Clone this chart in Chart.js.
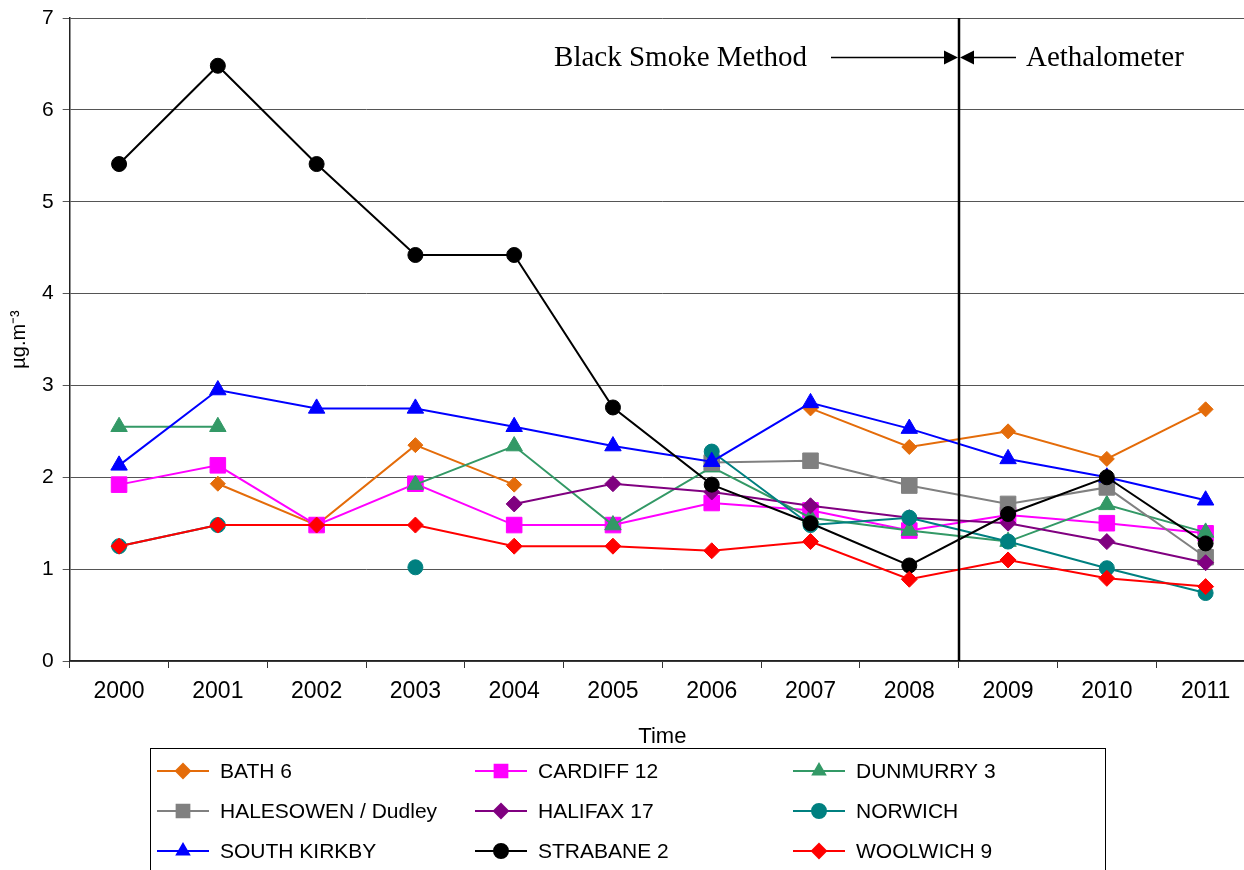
<!DOCTYPE html>
<html>
<head>
<meta charset="utf-8">
<script src="https://cdn.jsdelivr.net/npm/chart.js@4/dist/chart.umd.min.js"></script>
<style>
html, body { margin: 0; padding: 0; background: #fff; overflow: hidden; }
canvas { display: block; }
</style>
</head>
<body>
<canvas id="smokeChart" width="1267" height="870"></canvas>
<script>
const YEARS = ['2000','2001','2002','2003','2004','2005','2006','2007','2008','2009','2010','2011'];
const Y_TICKS = [0,1,2,3,4,5,6,7];

const BATH      = [null,1.93,1.48,2.35,1.92,null,null,2.75,2.33,2.50,2.20,2.74];
const CARDIFF   = [1.92,2.13,1.48,1.93,1.48,1.48,1.72,1.64,1.42,1.59,1.50,1.39];
const DUNMURRY  = [2.55,2.55,null,1.92,2.34,1.48,2.11,1.56,1.42,1.30,1.70,1.40];
const HALESOWEN = [null,null,null,null,null,null,2.16,2.18,1.91,1.71,1.89,1.13];
const HALIFAX   = [null,null,null,null,1.71,1.93,1.84,1.69,1.56,1.50,1.30,1.07];
const NORWICH   = [1.25,1.48,null,1.02,null,null,2.28,1.48,1.56,1.30,1.01,0.74];
const KIRKBY    = [2.13,2.95,2.75,2.75,2.55,2.34,2.17,2.81,2.53,2.20,2.00,1.75];
const STRABANE  = [5.41,6.48,5.41,4.42,4.42,2.76,1.92,1.50,1.04,1.60,2.00,1.28];
const WOOLWICH  = [1.25,1.48,1.48,1.48,1.25,1.25,1.20,1.30,0.89,1.10,0.90,0.81];

let n = 0;
const mk = (label, data, color, style, r) => ({
    label: label,
    data: data,
    borderColor: color,
    backgroundColor: color,
    borderWidth: 2,
    pointStyle: style,
    pointRadius: r,
    pointHoverRadius: r,
    pointBorderWidth: 1,
    spanGaps: false,
    tension: 0,
    order: 20 - (n++)   // later series drawn on top, like the original
});

const datasets = [
    mk('BATH 6', BATH, '#E46C0A', 'rectRot', 7.5),
    mk('CARDIFF 12', CARDIFF, '#FF00FF', 'rect', 11),
    mk('DUNMURRY 3', DUNMURRY, '#339966', 'triangle', 9.5),
    mk('HALESOWEN / Dudley', HALESOWEN, '#808080', 'rect', 11),
    mk('HALIFAX 17', HALIFAX, '#800080', 'rectRot', 8),
    mk('NORWICH', NORWICH, '#008080', 'circle', 7.5),
    mk('SOUTH KIRKBY', KIRKBY, '#0000FF', 'triangle', 9.5),
    mk('STRABANE 2', STRABANE, '#000000', 'circle', 7.5),
    mk('WOOLWICH 9', WOOLWICH, '#FF0000', 'rectRot', 8)
];

const changeover = {
    id: 'changeover',
    afterDatasetsDraw(chart) {
        const ctx = chart.ctx;
        const x = Math.round(chart.scales.x.getPixelForValue(8.5));
        const top = chart.chartArea.top;
        const bottom = chart.chartArea.bottom;
        const y = Math.round(chart.scales.y.getPixelForValue(6.57)) + 0.5;
        ctx.save();
        ctx.strokeStyle = '#000';
        ctx.fillStyle = '#000';
        ctx.lineWidth = 2.5;
        ctx.beginPath();
        ctx.moveTo(x, top);
        ctx.lineTo(x, bottom);
        ctx.stroke();
        ctx.lineWidth = 1.5;
        ctx.beginPath();
        ctx.moveTo(x - 128, y);
        ctx.lineTo(x - 12, y);
        ctx.moveTo(x + 12, y);
        ctx.lineTo(x + 57, y);
        ctx.stroke();
        ctx.beginPath();
        ctx.moveTo(x - 1, y);
        ctx.lineTo(x - 15, y - 7);
        ctx.lineTo(x - 15, y + 7);
        ctx.closePath();
        ctx.moveTo(x + 1, y);
        ctx.lineTo(x + 15, y - 7);
        ctx.lineTo(x + 15, y + 7);
        ctx.closePath();
        ctx.fill();
        ctx.font = '29px "Liberation Serif", "Times New Roman", serif';
        ctx.textBaseline = 'middle';
        ctx.textAlign = 'right';
        ctx.fillText('Black Smoke Method', x - 152, y + 1);
        ctx.textAlign = 'left';
        ctx.fillText('Aethalometer', x + 67, y + 1);
        ctx.restore();
    }
};

const boxLegend = {
    id: 'boxLegend',
    afterDraw(chart) {
        const ctx = chart.ctx;
        ctx.save();
        ctx.strokeStyle = '#000';
        ctx.lineWidth = 1;
        ctx.strokeRect(150.5, 748.5, 955, 140);
        ctx.font = '21px "Liberation Sans", Arial, sans-serif';
        ctx.textBaseline = 'middle';
        ctx.textAlign = 'left';
        chart.data.datasets.forEach((ds, i) => {
            const col = i % 3;
            const row = Math.floor(i / 3);
            const x0 = 157 + col * 318;
            const y0 = 771 + row * 40;
            ctx.strokeStyle = ds.borderColor;
            ctx.lineWidth = 2;
            ctx.beginPath();
            ctx.moveTo(x0, y0);
            ctx.lineTo(x0 + 52, y0);
            ctx.stroke();
            ctx.fillStyle = ds.backgroundColor;
            Chart.helpers.drawPoint(ctx, {
                pointStyle: ds.pointStyle,
                radius: ds.pointStyle === 'rect' ? 9 : 7,
                borderWidth: 1,
                rotation: 0
            }, x0 + 26, y0);
            ctx.fillStyle = '#000';
            ctx.fillText(ds.label, x0 + 63, y0 + 1);
        });
        ctx.restore();
    }
};

new Chart(document.getElementById('smokeChart'), {
    type: 'line',
    data: { labels: YEARS, datasets: datasets },
    options: {
        responsive: false,
        animation: false,
        layout: { padding: { top: 18, right: 3, bottom: 120, left: 7 } },
        plugins: {
            legend: { display: false },
            tooltip: { enabled: false }
        },
        scales: {
            x: {
                offset: true,
                grid: {
                    offset: true,
                    drawOnChartArea: false,
                    color: '#333',
                    tickLength: 7
                },
                border: { color: '#222', width: 1.5 },
                ticks: {
                    color: '#000',
                    font: { family: '"Liberation Sans", Arial, sans-serif', size: 23 },
                    padding: 10,
                    maxRotation: 0
                },
                title: {
                    display: true,
                    text: 'Time',
                    color: '#000',
                    font: { family: '"Liberation Sans", Arial, sans-serif', size: 22 },
                    padding: { top: 8, bottom: 0 }
                }
            },
            y: {
                min: 0,
                max: 7,
                afterBuildTicks: (axis) => { axis.ticks = Y_TICKS.map(v => ({ value: v })); },
                afterFit: (axis) => { axis.paddingTop = 0; axis.paddingBottom = 0; },
                grid: {
                    color: '#555',
                    lineWidth: 1,
                    tickLength: 7
                },
                border: { color: '#222', width: 1.5 },
                ticks: {
                    color: '#000',
                    font: { family: '"Liberation Sans", Arial, sans-serif', size: 21 },
                    padding: 9
                },
                title: {
                    display: true,
                    text: 'µg.m⁻³',
                    color: '#000',
                    font: { family: '"Liberation Sans", Arial, sans-serif', size: 20 },
                    padding: { top: 0, bottom: 2 }
                }
            }
        }
    },
    plugins: [changeover, boxLegend]
});
</script>
</body>
</html>
